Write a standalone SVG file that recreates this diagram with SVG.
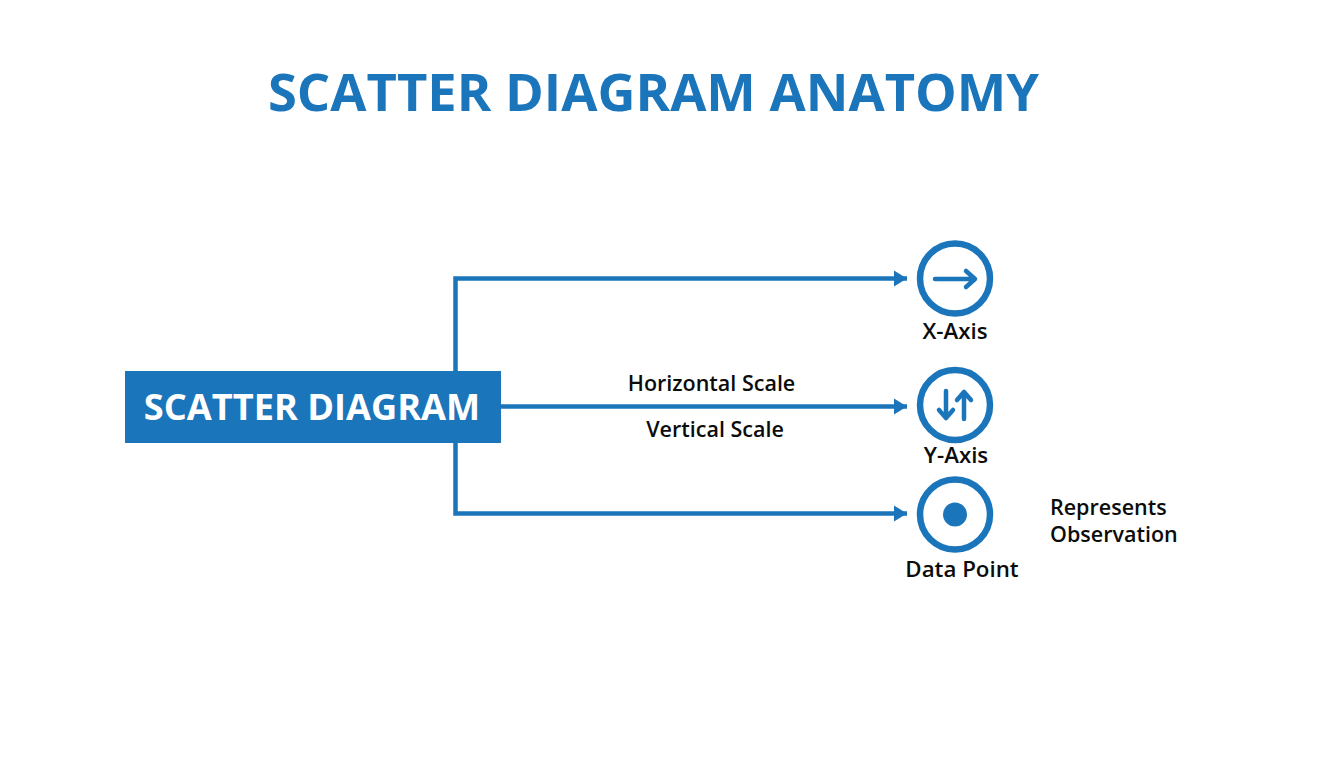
<svg xmlns="http://www.w3.org/2000/svg" width="1344" height="768" viewBox="0 0 1344 768">
<style>
.lbl{font-family:"Open Sans","Noto Sans",sans-serif;font-weight:600;font-size:21.5px;fill:#0c0c0c;text-anchor:middle}
.big{font-size:22.3px}
.st{text-anchor:start}
.head{font-family:"Open Sans","Noto Sans",sans-serif;font-weight:700;text-anchor:middle}
.ln{fill:none;stroke:#1b75bb;stroke-width:4.5}
.ic{fill:none;stroke:#1b75bb;stroke-width:6.5}
.thin{fill:none;stroke:#1b75bb;stroke-width:4.5;stroke-linecap:round;stroke-linejoin:round}
</style>
<defs><marker id="a" markerUnits="userSpaceOnUse" markerWidth="15" markerHeight="18" refX="13" refY="9" orient="auto"><path d="M0 1L13 9L0 17Z" fill="#1b75bb"/></marker></defs>
<rect width="1344" height="768" fill="#fff"/>
<text class="head" x="653.5" y="111" font-size="52.5" fill="#1b75bb">SCATTER DIAGRAM ANATOMY</text>
<g id="connectors">
<path class="ln" d="M455.5 371V278.5H907" marker-end="url(#a)"/>
<path class="ln" d="M501 406.5H907" marker-end="url(#a)"/>
<path class="ln" d="M455.5 443V513.5H907" marker-end="url(#a)"/>
</g>
<g id="scatter"><rect x="125" y="371" width="376" height="72" fill="#1b75bb"/><text class="head" x="312" y="420" font-size="36.2" fill="#fff">SCATTER DIAGRAM</text></g>
<g id="xaxis"><circle class="ic" cx="955" cy="278.5" r="35"/><path class="thin" d="M935 279H974M966 271L975 279L966 287"/><text class="lbl big" x="955" y="339">X-Axis</text></g>
<g id="yaxis"><circle class="ic" cx="955" cy="405" r="35"/><path class="thin" d="M946 391V417M939 410L946 418L953 410M964 419V393M957 400L964 392L971 400"/><text class="lbl big" x="956" y="463">Y-Axis</text></g>
<g id="point"><circle class="ic" cx="955" cy="514.5" r="35"/><circle cx="955" cy="514.5" r="12" fill="#1b75bb"/><text class="lbl big" x="962" y="577">Data Point</text></g>
<g id="labels">
<text class="lbl" x="711.5" y="391">Horizontal Scale</text>
<text class="lbl" x="715" y="437">Vertical Scale</text>
<text class="lbl st" x="1050" y="515">Represents</text>
<text class="lbl st" x="1050" y="542">Observation</text>
</g>
</svg>
